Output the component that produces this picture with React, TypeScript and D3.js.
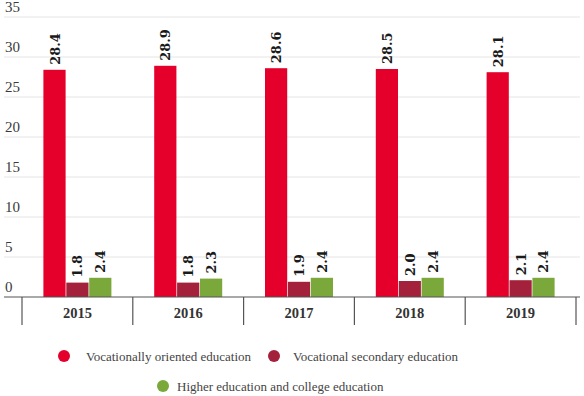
import React from "react";
import * as d3 from "d3";

const years = ["2015", "2016", "2017", "2018", "2019"];
const oriented = [28.4, 28.9, 28.6, 28.5, 28.1];
const secondary = [1.8, 1.8, 1.9, 2.0, 2.1];
const higher = [2.4, 2.3, 2.4, 2.4, 2.4];
const seriesNames = [
  "Vocationally oriented education",
  "Vocational secondary education",
  "Higher education and college education",
];
const colors = ["#e4002b", "#a3213a", "#7aa83a"];
const yTicks = [0, 5, 10, 15, 20, 25, 30, 35];

const W = 584;
const H = 396;
const serif = "Liberation Serif";
const boldSerif = "DejaVu Serif";

export default function App() {
  // plot area
  const left = 22, right = 576, top = 17, bottom = 297;

  const x = d3.scaleBand<string>().domain(years).range([left, right]);
  const y = d3.scaleLinear().domain([0, 35]).range([bottom, top]);
  const series = [oriented, secondary, higher];
  const inner = d3
    .scaleBand<number>()
    .domain([0, 1, 2])
    .range([0, 68])
    .paddingInner(0.03);

  return (
    <svg
      width={W}
      height={H}
      style={{ position: "absolute", left: 0, top: 0, background: "#fff" }}
    >
      {/* grid + y labels */}
      {yTicks.map((t) => (
        <g key={t}>
          {t > 0 && (
            <line x1={4} x2={580} y1={y(t)} y2={y(t)} stroke="#e6e6e6" strokeWidth={1.2} />
          )}
          <text x={5} y={y(t) - 5} style={{ fontFamily: serif, fontSize: 15 }} fill="#3a3a3a">
            {t}
          </text>
        </g>
      ))}

      {/* bars */}
      {years.map((yr, i) => {
        const x0 = (x(yr) as number) + (x.bandwidth() - 68) / 2;
        return (
          <g key={yr}>
            {series.map((s, j) => {
              const bx = x0 + (inner(j) as number);
              const bw = inner.bandwidth();
              const v = s[i];
              const cx = bx + bw / 2;
              const ty = y(v) - 5;
              return (
                <g key={j}>
                  <rect x={bx} y={y(v)} width={bw} height={bottom - y(v)} fill={colors[j]} />
                  <text
                    transform={`translate(${cx + 5},${ty}) rotate(-90)`}
                    style={{ fontFamily: boldSerif, fontSize: 13, fontWeight: "bold" }}
                    fill="#1a1a1a"
                  >
                    {v.toFixed(1)}
                  </text>
                </g>
              );
            })}
          </g>
        );
      })}

      {/* x axis */}
      <line x1={4} x2={580} y1={bottom} y2={bottom} stroke="#555" strokeWidth={1.2} />
      {[...years.map((yr) => x(yr) as number), right].map((d, i) => (
        <line key={i} x1={d} x2={d} y1={bottom} y2={325} stroke="#555" strokeWidth={1.2} />
      ))}
      {years.map((yr) => (
        <text
          key={yr}
          x={(x(yr) as number) + x.bandwidth() / 2}
          y={318}
          textAnchor="middle"
          style={{ fontFamily: serif, fontSize: 14.5, fontWeight: "bold" }}
          fill="#333"
        >
          {yr}
        </text>
      ))}

      {/* legend */}
      {[
        { cx: 64, cy: 356, tx: 86 },
        { cx: 274, cy: 356, tx: 293 },
        { cx: 163, cy: 386, tx: 177 },
      ].map((p, i) => (
        <g key={i}>
          <circle cx={p.cx} cy={p.cy} r={6} fill={colors[i]} />
          <text x={p.tx} y={p.cy + 4.5} style={{ fontFamily: serif, fontSize: 13 }} fill="#444">
            {seriesNames[i]}
          </text>
        </g>
      ))}
    </svg>
  );
}
